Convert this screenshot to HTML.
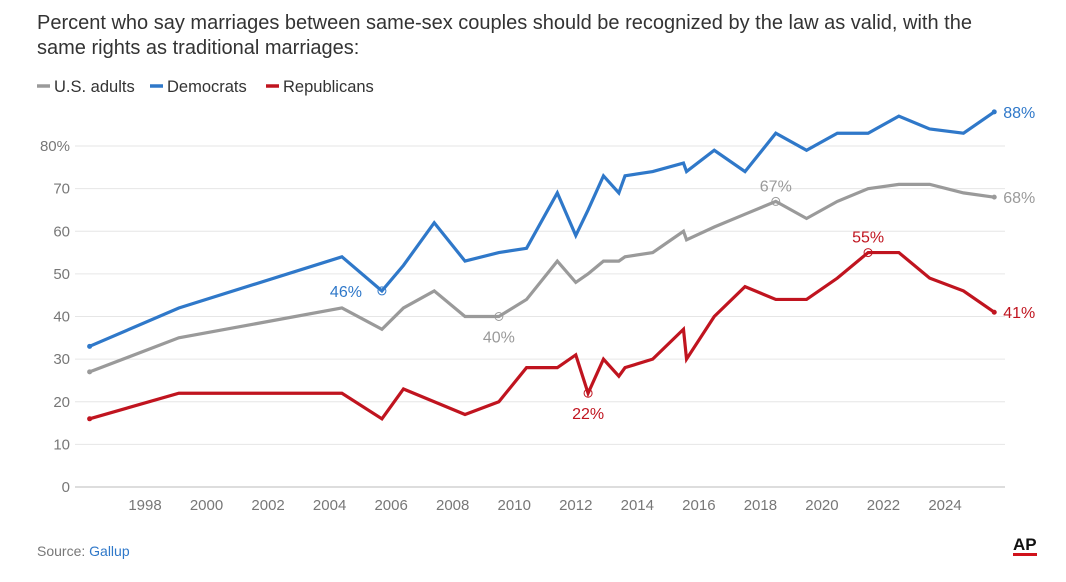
<!DOCTYPE html>
<html><head><meta charset="utf-8"><style>
body{margin:0;background:#fff;font-family:"Liberation Sans",sans-serif;}
svg text{font-family:"Liberation Sans",sans-serif;}
</style></head><body>
<svg width="1066" height="577" viewBox="0 0 1066 577">
<text x="37" y="29" font-size="20" fill="#333">Percent who say marriages between same-sex couples should be recognized by the law as valid, with the</text>
<text x="37" y="54" font-size="20" fill="#333">same rights as traditional marriages:</text>
<g font-size="16.5" fill="#333">
<line x1="37" y1="86" x2="50" y2="86" stroke="#9a9a9a" stroke-width="3.5"/><text x="54" y="92">U.S. adults</text>
<line x1="150" y1="86" x2="163" y2="86" stroke="#2f78c9" stroke-width="3.5"/><text x="167" y="92">Democrats</text>
<line x1="266" y1="86" x2="279" y2="86" stroke="#c0141f" stroke-width="3.5"/><text x="283" y="92">Republicans</text>
</g>
<g id="grid"></g><g id="lines"></g><g id="anno"></g>
<text x="37" y="556" font-size="14" fill="#777">Source: <tspan fill="#2f78c9">Gallup</tspan></text>
<text x="1013" y="550" font-size="17" font-weight="bold" fill="#111">AP</text>
<rect x="1013" y="553" width="24" height="3" fill="#d0121b"/>
</svg>
<script>
const years=[1996.2,1999.1,2004.4,2005.7,2006.4,2007.4,2008.4,2009.5,2010.4,2011.4,2012,2012.4,2012.9,2013.4,2013.6,2014.5,2015.5,2015.6,2016.5,2017.5,2018.5,2019.5,2020.5,2021.5,2022.5,2023.5,2024.6,2025.6];
const allAdults=[27,35,42,37,42,46,40,40,44,53,48,50,53,53,54,55,60,58,61,64,67,63,67,70,71,71,69,68];
const democrats=[33,42,54,46,52,62,53,55,56,69,59,65,73,69,73,74,76,74,79,74,83,79,83,83,87,84,83,88];
const republicans=[16,22,22,16,23,20,17,20,28,28,31,22,30,26,28,30,37,30,40,47,44,44,49,55,55,49,46,41];
const yTicks=[0,10,20,30,40,50,60,70,80];
const xTicks=[1998,2000,2002,2004,2006,2008,2010,2012,2014,2016,2018,2020,2022,2024];
const X=y=>145+(y-1998)*30.77, Y=v=>487-v*4.2625;
const NS="http://www.w3.org/2000/svg";
function mk(t,a,p){const e=document.createElementNS(NS,t);for(const k in a)e.setAttribute(k,a[k]);p.appendChild(e);return e;}
const g=document.getElementById('grid');
yTicks.forEach(v=>{
 const l=mk('line',{x1:75,x2:1005,y1:Y(v),y2:Y(v),stroke:v===0?'#bbb':'#e6e6e6','stroke-width':1},g);
 
 
 const t=mk('text',{x:70,y:Y(v)+5,'text-anchor':'end','font-size':15,fill:'#777'},g);
 t.textContent=v===80?'80%':v;
 
 
});
xTicks.forEach(yr=>{
 const t=mk('text',{x:X(yr),y:510,'text-anchor':'middle','font-size':15,fill:'#777'},g);
 t.textContent=yr;
 
 
});
const L=document.getElementById('lines');
[[allAdults,'#9a9a9a','us-adults-line'],[democrats,'#2f78c9','democrats-line'],[republicans,'#c0141f','republicans-line']].forEach(([d,c,n])=>{
 const p=mk('polyline',{points:d.map((v,i)=>X(years[i])+','+Y(v)).join(' '),fill:'none',stroke:c,'stroke-width':3.2,'stroke-linejoin':'miter'},L);
 
 
 mk('circle',{cx:X(years[0]),cy:Y(d[0]),r:2.5,fill:c},L);
 mk('circle',{cx:X(years[d.length-1]),cy:Y(d[d.length-1]),r:2.5,fill:c},L);
 const t=mk('text',{x:X(years[d.length-1])+9,y:Y(d[d.length-1])+6,'font-size':16,fill:c},L);
 t.textContent=d[d.length-1]+'%';
 
 
});
const A=document.getElementById('anno');
[[democrats,3,'#2f78c9',-52,6,'start'],[allAdults,7,'#9a9a9a',0,26,'middle'],[republicans,11,'#c0141f',0,26,'middle'],[allAdults,20,'#9a9a9a',0,-10,'middle'],[republicans,23,'#c0141f',0,-10,'middle']].forEach(([d,i,c,dx,dy,an])=>{
 const x=X(years[i]),y=Y(d[i]);
 mk('circle',{cx:x,cy:y,r:4,fill:'none',stroke:c,'stroke-width':1},A);
 const t=mk('text',{x:x+dx,y:y+dy,'text-anchor':an,'font-size':16,fill:c},A);
 t.textContent=d[i]+'%';
 
 
});
</script>
</body></html>
